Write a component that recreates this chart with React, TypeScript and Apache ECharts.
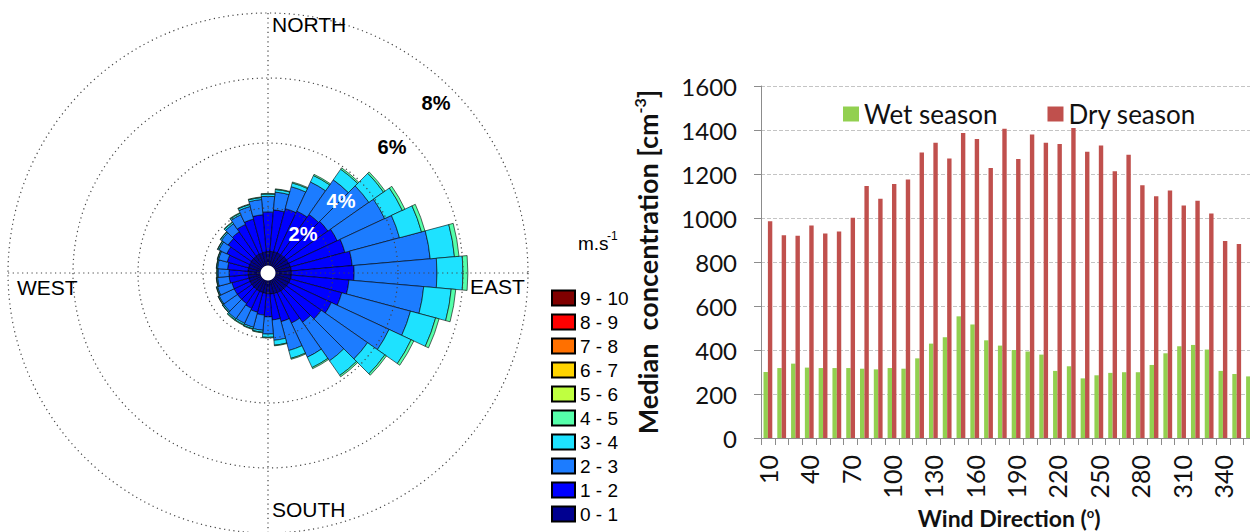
import React, { useEffect, useRef } from "react";
import * as echarts from "echarts";

// ---------- Wind rose data (percent frequency per 10° sector, stacked by speed class) ----------
const directions = [0, 10, 20, 30, 40, 50, 60, 70, 80, 90, 100, 110, 120, 130, 140, 150, 160, 170,
  180, 190, 200, 210, 220, 230, 240, 250, 260, 270, 280, 290, 300, 310, 320, 330, 340, 350];
const speedClasses = ["0 - 1", "1 - 2", "2 - 3", "3 - 4", "4 - 5", "5 - 6", "6 - 7", "7 - 8", "8 - 9", "9 - 10"];
const speedColors = ["#000090", "#0000FF", "#1C7CFF", "#1EE2FF", "#55FFAA", "#BFFF40", "#FFD400", "#FF7000", "#FF0000", "#800000"];
const speed0to1 = [0.66, 0.67, 0.68, 0.68, 0.69, 0.70, 0.70, 0.71, 0.72, 0.72, 0.72, 0.71, 0.70, 0.69, 0.68, 0.67, 0.66, 0.65,
  0.64, 0.63, 0.62, 0.62, 0.61, 0.61, 0.61, 0.61, 0.61, 0.61, 0.62, 0.62, 0.62, 0.63, 0.63, 0.64, 0.64, 0.65];
const speed1to2 = [1.22, 1.28, 1.37, 1.42, 1.51, 1.55, 1.65, 1.74, 1.88, 1.93, 1.78, 1.64, 1.45, 1.31, 1.17, 1.03, 0.89, 0.80,
  0.71, 0.67, 0.63, 0.58, 0.54, 0.54, 0.54, 0.54, 0.59, 0.59, 0.63, 0.68, 0.78, 0.87, 0.92, 1.01, 1.08, 1.15];
const speed2to3 = [0.48, 0.55, 0.70, 0.99, 1.30, 1.54, 1.61, 1.74, 2.41, 2.55, 2.31, 2.19, 1.96, 1.74, 1.45, 1.16, 0.92, 0.63,
  0.53, 0.47, 0.48, 0.51, 0.57, 0.52, 0.51, 0.46, 0.36, 0.34, 0.31, 0.28, 0.27, 0.25, 0.30, 0.33, 0.40, 0.47];
const speed3to4 = [0.07, 0.08, 0.12, 0.22, 0.40, 0.55, 0.60, 0.70, 0.75, 0.80, 0.85, 0.80, 0.75, 0.65, 0.55, 0.35, 0.25, 0.15,
  0.10, 0.06, 0.05, 0.05, 0.04, 0.04, 0.03, 0.03, 0.03, 0.03, 0.03, 0.03, 0.04, 0.04, 0.05, 0.05, 0.06, 0.06];
const speed4to5 = [0.02, 0.02, 0.03, 0.04, 0.05, 0.06, 0.09, 0.11, 0.14, 0.15, 0.14, 0.11, 0.09, 0.06, 0.05, 0.04, 0.03, 0.02,
  0.02, 0.02, 0.02, 0.02, 0.02, 0.01, 0.01, 0.01, 0.01, 0.01, 0.01, 0.01, 0.01, 0.01, 0.02, 0.02, 0.02, 0.02];
const speed5to6: number[] = [];
const speed6to7: number[] = [];
const speed7to8: number[] = [];
const speed8to9: number[] = [];
const speed9to10: number[] = [];
const roseSeriesData = [speed0to1, speed1to2, speed2to3, speed3to4, speed4to5, speed5to6, speed6to7, speed7to8, speed8to9, speed9to10];
const roseRingLabels = ["2%", "4%", "6%", "8%"];

// ---------- Concentration by wind direction ----------
const windDirCategories = ["10", "20", "30", "40", "50", "60", "70", "80", "90", "100", "110", "120", "130", "140", "150",
  "160", "170", "180", "190", "200", "210", "220", "230", "240", "250", "260", "270", "280", "290", "300", "310", "320",
  "330", "340", "350", "360"];
const wetSeason = [300, 318, 338, 320, 318, 318, 318, 315, 312, 318, 315, 362, 429, 458, 553, 516, 444, 420, 400, 393,
  379, 305, 326, 271, 285, 296, 299, 299, 332, 385, 417, 423, 402, 305, 291, 280];
const drySeason = [985, 922, 919, 966, 929, 939, 1001, 1145, 1087, 1155, 1175, 1298, 1342, 1271, 1386, 1359, 1227, 1406,
  1268, 1380, 1342, 1336, 1409, 1301, 1330, 1213, 1287, 1149, 1099, 1125, 1057, 1078, 1020, 895, 882, 870];

const ARIAL = '"Liberation Sans", Arial, sans-serif';
const LATO = 'Lato, "Open Sans", sans-serif';

export default function App() {
  const ref = useRef<HTMLDivElement>(null);
  useEffect(() => {
    if (!ref.current) return;
    const chart = echarts.init(ref.current, undefined, { renderer: "svg" });
    const cx = 268, cy = 273;

    const roseSeries = speedClasses.map((name, i) => ({
      type: "bar",
      name,
      coordinateSystem: "polar",
      polarIndex: 0,
      stack: "rose",
      barCategoryGap: "0%",
      data: directions.map((_, k) => {
        const v = roseSeriesData[i][k];
        return v ? v : null;
      }),
      itemStyle: { color: speedColors[i], borderColor: "#000", borderWidth: 0.6 },
      z: 2,
    }));

    const ringText = (label: string, x: number, y: number, fill: string) => ({
      type: "text",
      x, y, z: 100,
      style: { text: label, fontSize: 20, fontWeight: "bold", fontFamily: ARIAL, fill, align: "center", verticalAlign: "middle" },
    });
    const compassText = (label: string, x: number, y: number) => ({
      type: "text",
      x, y, z: 100,
      style: { text: label, fontSize: 21, fontFamily: ARIAL, fill: "#000", align: "left", verticalAlign: "middle" },
    });

    chart.setOption({
      animation: false,
      polar: [
        { center: [cx, cy], radius: 260 },
        { center: [cx, cy], radius: 260 },
      ],
      angleAxis: [
        {
          polarIndex: 0, type: "category", data: directions.map(String), startAngle: 95, clockwise: true,
          axisLine: { show: false }, axisTick: { show: false }, axisLabel: { show: false }, splitLine: { show: false },
        },
        {
          polarIndex: 1, type: "value", min: 0, max: 360, interval: 90, startAngle: 90, clockwise: true, z: 5,
          axisLine: { show: false }, axisTick: { show: false }, axisLabel: { show: false },
          splitLine: { show: true, lineStyle: { color: "#444", type: [1.2, 3.5], width: 1.2 } },
        },
      ],
      radiusAxis: [
        {
          polarIndex: 0, type: "value", min: 0, max: 8,
          axisLine: { show: false }, axisTick: { show: false }, axisLabel: { show: false }, splitLine: { show: false },
        },
        {
          polarIndex: 1, type: "value", min: 0, max: 8, interval: 2, z: 5,
          axisLine: { show: false }, axisTick: { show: false }, axisLabel: { show: false },
          splitLine: { show: true, lineStyle: { color: "#444", type: [1.2, 3.5], width: 1.2 } },
        },
      ],
      grid: { left: 761, top: 86, width: 496.4, height: 352, containLabel: false, outerBoundsMode: "none" },
      xAxis: {
        type: "category",
        data: windDirCategories,
        boundaryGap: true,
        axisLine: { lineStyle: { color: "#8c8c8c", width: 1 } },
        axisTick: { show: true, interval: 0, length: 7, lineStyle: { color: "#8c8c8c" } },
        axisLabel: { interval: 2, rotate: 90, margin: 17, fontSize: 25, fontFamily: LATO, color: "#111" },
        name: "{a|Wind Direction (}{s|o}{a|)}",
        nameLocation: "middle",
        nameGap: 66,
        nameTextStyle: {
          rich: {
            a: { fontSize: 23, fontWeight: "bold", fontFamily: LATO, color: "#111", lineHeight: 24 },
            s: { fontSize: 13, fontWeight: "bold", fontFamily: LATO, color: "#111", verticalAlign: "top", lineHeight: 24 },
          },
        },
      },
      yAxis: {
        type: "value",
        min: 0,
        max: 1600,
        interval: 200,
        axisLine: { show: true, lineStyle: { color: "#8c8c8c", width: 1 } },
        axisTick: { show: true, length: 7, lineStyle: { color: "#8c8c8c" } },
        splitLine: { show: true, lineStyle: { type: "dashed", color: "#c4c4c4" } },
        axisLabel: { fontSize: 24, fontFamily: LATO, color: "#111", margin: 24, formatter: (v: number) => String(v) },
        name: "{a|Median  concentration [cm}{s|-3}{a|]}",
        nameLocation: "middle",
        nameGap: 98,
        nameRotate: 90,
        nameTextStyle: {
          rich: {
            a: { fontSize: 27, fontWeight: "bold", fontFamily: LATO, color: "#111", lineHeight: 32 },
            s: { fontSize: 16, fontWeight: "bold", fontFamily: LATO, color: "#111", verticalAlign: "top", lineHeight: 32 },
          },
        },
      },
      legend: [
        {
          data: ["Wet season", "Dry season"],
          left: 843, top: 101, orient: "horizontal", icon: "rect", itemWidth: 16, itemHeight: 15, itemGap: 50,
          padding: 0, textStyle: { fontFamily: LATO, fontSize: 26, color: "#111" },
        },
        {
          data: speedClasses.slice().reverse(),
          left: 551, top: 286, orient: "vertical", icon: "rect", itemWidth: 23, itemHeight: 15, itemGap: 0,
          padding: 0, textStyle: { fontFamily: ARIAL, fontSize: 19, color: "#000", lineHeight: 24 },
        },
      ],
      series: [
        ...roseSeries,
        {
          type: "bar", name: "Wet season", data: wetSeason, barWidth: 4.4, barGap: "0%",
          itemStyle: { color: "#92D050" },
        },
        {
          type: "bar", name: "Dry season", data: drySeason, barWidth: 4.4, barGap: "0%",
          itemStyle: { color: "#C0504D" },
        },
      ],
      graphic: [
        { type: "circle", z: 100, shape: { cx, cy, r: 7.5 }, style: { fill: "#fff" } },
        compassText("NORTH", 272, 24),
        compassText("SOUTH", 272, 509),
        compassText("WEST", 17, 287),
        compassText("EAST", 470, 286),
        ringText(roseRingLabels[0], 303, 234, "#fff"),
        ringText(roseRingLabels[1], 341, 201, "#fff"),
        ringText(roseRingLabels[2], 392, 147, "#000"),
        ringText(roseRingLabels[3], 436, 103, "#000"),
        {
          type: "text", x: 578, y: 243, z: 100,
          style: { text: "m.s", fontSize: 19, fontFamily: ARIAL, fill: "#000", align: "left", verticalAlign: "middle" },
        },
        {
          type: "text", x: 607, y: 236, z: 100,
          style: { text: "-1", fontSize: 12, fontFamily: ARIAL, fill: "#000", align: "left", verticalAlign: "middle" },
        },
      ],
    });
    return () => chart.dispose();
  }, []);

  return (
    <div
      ref={ref}
      style={{ position: "fixed", left: 0, top: 0, width: 1250, height: 532, background: "#fff" }}
    />
  );
}
